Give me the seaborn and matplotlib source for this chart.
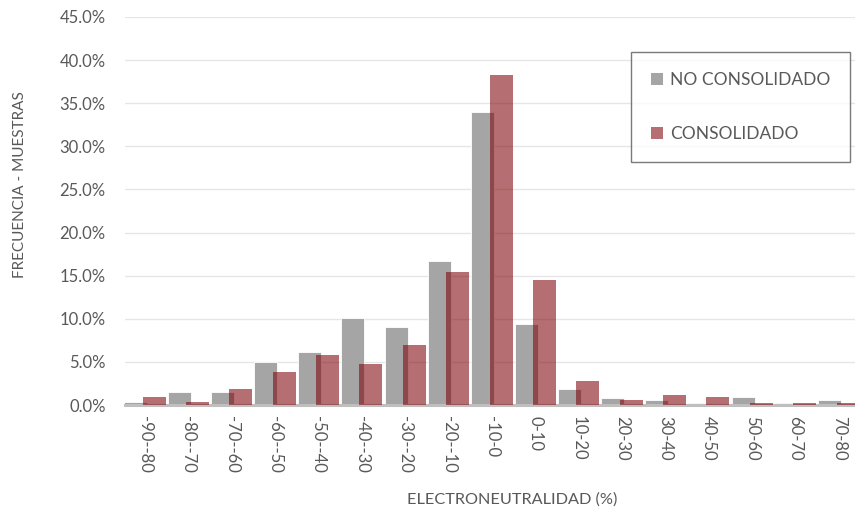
import numpy as np
import matplotlib
matplotlib.use("Agg")
import matplotlib.pyplot as plt
from matplotlib.patches import Patch
from matplotlib.ticker import PercentFormatter
import seaborn as sns

# Electroneutrality bins and frequency (% of samples)
bins = ["-90--80", "-80--70", "-70--60", "-60--50", "-50--40", "-40--30",
        "-30--20", "-20--10", "-10-0", "0-10", "10-20", "20-30", "30-40",
        "40-50", "50-60", "60-70", "70-80"]
no_consolidado = [0.3, 1.5, 1.5, 5.0, 6.2, 10.1, 9.1, 16.7, 34.0, 9.4,
                  1.8, 0.85, 0.55, 0.25, 0.9, 0.25, 0.55]
consolidado = [0.9, 0.3, 1.9, 3.8, 5.8, 4.75, 7.0, 15.4, 38.3, 14.5,
               2.8, 0.55, 1.2, 0.9, 0.25, 0.25, 0.25]
series_labels = ["NO CONSOLIDADO", "CONSOLIDADO"]

GREY = "#A5A5A5"
RED = "#7D0005"
TXT = "#595959"

sns.set_style("white")
plt.rcParams["font.family"] = ["Lato", "DejaVu Sans"]

fig = plt.figure(figsize=(8.55, 5.14), dpi=100)
ax = fig.add_axes([125 / 855, 109 / 514, 730 / 855, 388 / 514])

pos = np.arange(len(bins))
ax.yaxis.grid(True, color="#E6E6E6", linewidth=1.0, zorder=0)
ax.set_axisbelow(True)

sns.barplot(x=pos - 0.21, y=np.array(no_consolidado) / 100, native_scale=True,
            width=0.53, color=GREY, saturation=1, edgecolor="white",
            linewidth=0.6, ax=ax, zorder=2)
sns.barplot(x=pos + 0.21, y=np.array(consolidado) / 100, native_scale=True,
            width=0.53, color=RED, alpha=0.57, saturation=1, edgecolor="none",
            linewidth=0, ax=ax, zorder=3)

ax.set_xlim(-0.46, 16.37)
ax.set_ylim(0, 0.45)
ax.set_yticks(np.arange(0, 0.4501, 0.05))
ax.yaxis.set_major_formatter(PercentFormatter(1.0, decimals=1))
ax.set_xticks(pos)
ax.set_xticklabels(bins, rotation=-90, va="top", ha="center")
ax.tick_params(axis="both", length=0, labelsize=12, colors=TXT, pad=8)
ax.tick_params(axis="y", pad=14)

for s in ["top", "right", "left"]:
    ax.spines[s].set_visible(False)
ax.spines["bottom"].set_color("#BFBFBF")
ax.spines["bottom"].set_linewidth(2.2)

ax.set_xlabel("")
ax.set_ylabel("")
fig.text(512 / 855, 1 - 500 / 514, "ELECTRONEUTRALIDAD (%)", ha="center",
         va="center", fontsize=11.7, color=TXT)
fig.text(20 / 855, 1 - 185 / 514, "FRECUENCIA - MUESTRAS", ha="center",
         va="center", rotation=90, fontsize=11, color=TXT)

handles = [Patch(facecolor=GREY, edgecolor="none"),
           Patch(facecolor=RED, alpha=0.57, edgecolor="none")]
leg = fig.legend(handles, series_labels, loc="upper left",
                 bbox_to_anchor=(631 / 855, 1 - 52 / 514), frameon=True,
                 fancybox=False, fontsize=12.5, labelcolor=TXT,
                 handlelength=0.7, handleheight=0.7, handletextpad=0.4,
                 labelspacing=2.2, borderpad=1.15, borderaxespad=0)
leg.get_frame().set_edgecolor("#595959")
leg.get_frame().set_linewidth(1.0)

fig.savefig("out.png", dpi=100)
